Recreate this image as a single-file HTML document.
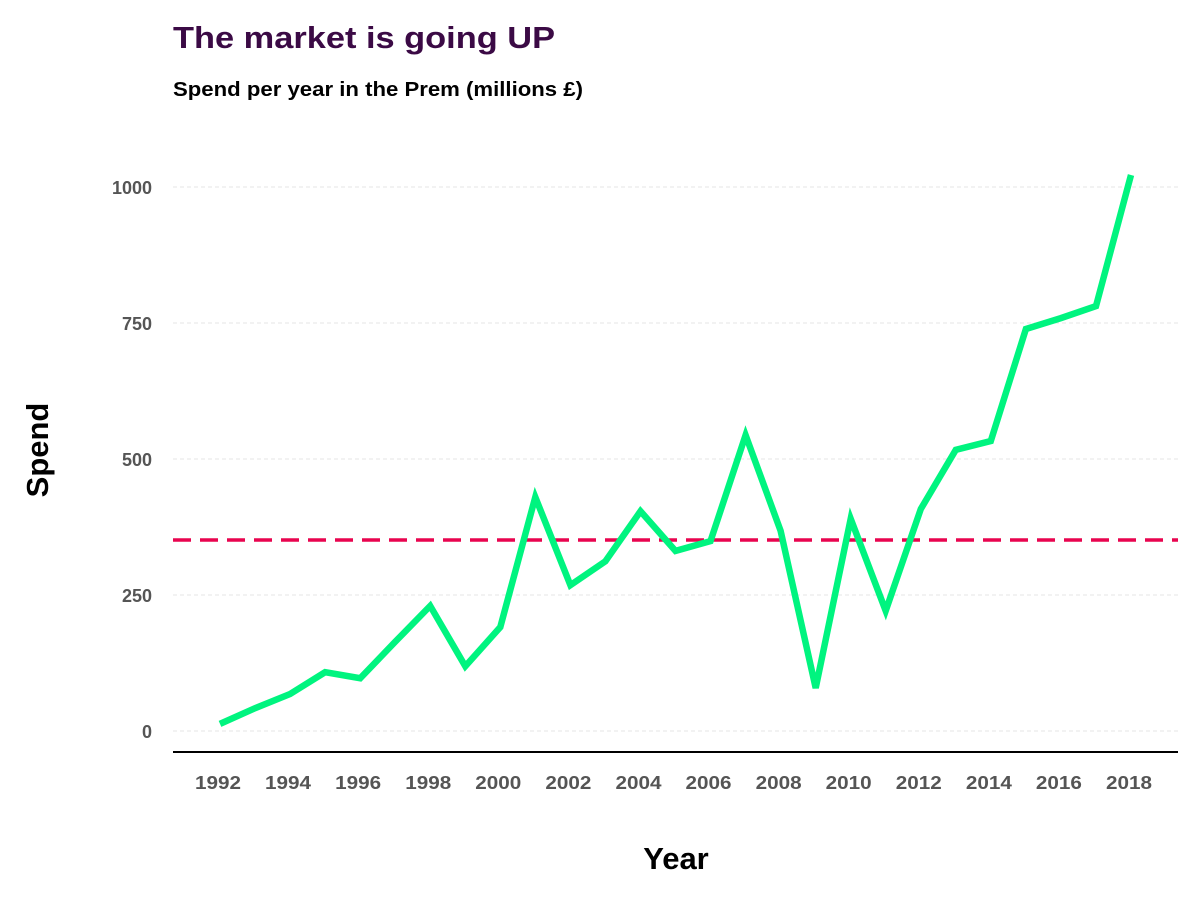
<!DOCTYPE html>
<html><head><meta charset="utf-8"><style>
body{margin:0;background:#fff;}
svg text{font-family:"Liberation Sans",sans-serif;font-weight:bold;}
</style></head><body>
<svg id="chart" width="1200" height="900">
<text x="173" y="48" font-size="31" fill="#3b0a45" textLength="382" lengthAdjust="spacingAndGlyphs">The market is going UP</text>
<text x="173" y="96" font-size="20" fill="#000" textLength="410" lengthAdjust="spacingAndGlyphs">Spend per year in the Prem (millions £)</text>
<g id="grid"></g>
<line x1="173" x2="1178" y1="752" y2="752" stroke="#000" stroke-width="2"/>
<g id="xt"></g><g id="yt"></g>
<text x="676" y="869" font-size="31" text-anchor="middle" fill="#000">Year</text>
<text transform="translate(48,450) rotate(-90)" font-size="31" text-anchor="middle" fill="#000">Spend</text>
<g id="marks"></g>
</svg>
<script>
const years=[1992,1993,1994,1995,1996,1997,1998,1999,2000,2001,2002,2003,2004,2005,2006,2007,2008,2009,2010,2011,2012,2013,2014,2015,2016,2017,2018];
const spend=[13,42,68,108,97,164,230,119,191,430,268,312,404,331,349,544,368,79,390,221,408,517,533,739,759,781,1022];
const yTicks=[0,250,500,750,1000];
const xTicks=[1992,1994,1996,1998,2000,2002,2004,2006,2008,2010,2012,2014,2016,2018];
const average=351;
const NS="http://www.w3.org/2000/svg";
const X=v=>220+(v-1992)*(1131-220)/26;
const Y=v=>731-v*0.544;
function mk(tag,attrs,parent,txt){const e=document.createElementNS(NS,tag);for(const k in attrs)e.setAttribute(k,attrs[k]);if(txt!==undefined)e.textContent=txt;document.getElementById(parent).appendChild(e);return e;}
yTicks.forEach(t=>{
 const g=mk('line',{x1:173,x2:1178,y1:Y(t),y2:Y(t),stroke:'#e6e6e6','stroke-width':1,'stroke-dasharray':'4 3'},'grid');
 
 
 const l=mk('text',{x:152,y:Y(t)+7,'font-size':18,'text-anchor':'end',fill:'#555'},'yt',t);
 
 
});
xTicks.forEach(t=>{
 const l=mk('text',{x:X(t)-2,y:789,'font-size':18,'text-anchor':'middle',fill:'#555',textLength:46,lengthAdjust:'spacingAndGlyphs'},'xt',t);
 
 
});
const avg=mk('line',{x1:173,x2:1178,y1:Y(average),y2:Y(average),stroke:'#e8044f','stroke-width':3.5,'stroke-dasharray':'18 9'},'marks');


const pts=years.map((y,i)=>X(y).toFixed(1)+','+Y(spend[i]).toFixed(1)).join(' ');
const pl=mk('polyline',{points:pts,fill:'none',stroke:'#00f47f','stroke-width':6.5,'stroke-linejoin':'miter'},'marks');


</script>
</body></html>
